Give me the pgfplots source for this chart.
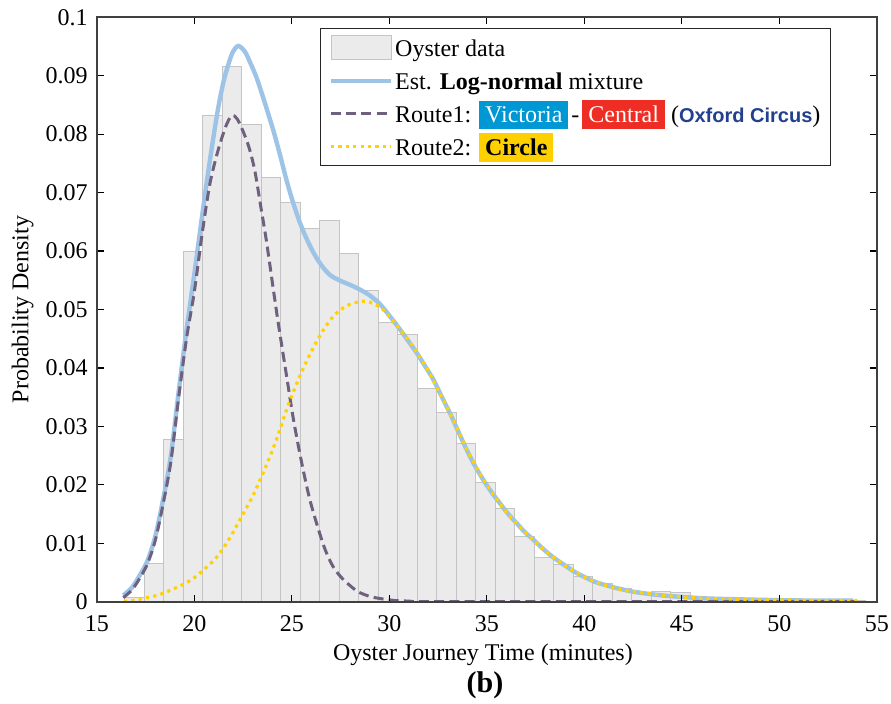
\documentclass[border=0pt]{standalone}
\usepackage{fontspec}
\setmainfont{Liberation Serif}
\newfontfamily\ocfont{Liberation Sans}
\usepackage{pgfplots}
\pgfplotsset{compat=1.18}
\definecolor{barfill}{HTML}{EBEBEB}
\definecolor{baredge}{HTML}{C4C4C4}
\definecolor{mixblue}{HTML}{9DC3E6}
\definecolor{rpurple}{HTML}{6E607E}
\definecolor{ryellow}{HTML}{FFD200}
\definecolor{vic}{HTML}{0098D4}
\definecolor{cen}{HTML}{EE2E24}
\definecolor{circ}{HTML}{FFD000}
\definecolor{oxc}{HTML}{23408E}
\pgfplotsset{
  linelegend/.style={legend image code/.code={\draw[##1] (0pt,0pt) -- (30pt,0pt);}},
  barlegend/.style={legend image code/.code={\draw[fill=barfill, draw=baredge, line width=0.5pt] (0pt,-6pt) rectangle (30pt,6pt);}},
}
\begin{document}
\begin{tikzpicture}
\path[use as bounding box] (-48.4pt,-51.15pt) rectangle (397.1pt,300.85pt);
\begin{axis}[
  at={(0pt,0pt)}, anchor=south west,
  scale only axis, width=390pt, height=292.2pt,
  clip mode=individual,
  xmin=15, xmax=55, ymin=0, ymax=0.1,
  xtick={15,20,25,30,35,40,45,50,55},
  ytick={0,0.01,0.02,0.03,0.04,0.05,0.06,0.07,0.08,0.09,0.1},
  scaled y ticks=false,
  yticklabel style={/pgf/number format/fixed, /pgf/number format/precision=2, xshift=-1pt},
  xticklabel style={yshift=-3.5pt},
  /pgf/number format/assume math mode=true,
  tick align=inside, major tick length=3.5pt,
  tick style={black, line width=0.6pt},
  axis line style={draw=black!75, line width=1pt},
  axis on top,
  font=\fontsize{12}{14}\selectfont,
  xlabel={Oyster Journey Time (minutes)},
  ylabel={Probability Density},
  xlabel style={at={(axis description cs:0.495,-0.09)}, anchor=center},
  ylabel style={at={(axis description cs:-0.095,0.5)}, anchor=center},
  legend cell align=left,
  legend style={at={(axis description cs:0.9413,0.9812)}, anchor=north east,
    draw=black!85, line width=0.6pt, fill=white,
    font=\fontsize{12}{14}\selectfont,
    inner xsep=4pt, inner ysep=2.5pt, row sep=2.5pt,
    nodes={inner sep=1pt, text height=10.5pt, text depth=1.5pt},
    /tikz/every even column/.append style={column sep=3pt}},
]
\addplot[ybar interval, fill=barfill, draw=baredge, line width=0.5pt, barlegend]
  coordinates {
  (16.44,0.0007) (17.44,0.0066) (18.44,0.0278) (19.44,0.0600) (20.44,0.0832)
  (21.44,0.0916) (22.44,0.0816) (23.44,0.0726) (24.44,0.0683) (25.44,0.0638)
  (26.44,0.0653) (27.44,0.0595) (28.44,0.0532) (29.44,0.0478) (30.44,0.0458)
  (31.44,0.0365) (32.44,0.0324) (33.44,0.0271) (34.44,0.0204) (35.44,0.0160)
  (36.44,0.0111) (37.44,0.0075) (38.44,0.0063) (39.44,0.0043) (40.44,0.0031)
  (41.44,0.0023) (42.44,0.0016) (43.44,0.0017) (44.44,0.0015) (45.44,0.0006)
  (46.44,0.0005) (47.44,0.0004) (48.44,0.0003) (49.44,0.0003) (50.44,0.0002)
  (51.44,0.0002) (52.44,0.0002) (53.44,0.0002) (54.44,0.0002)
  };
\addlegendentry{Oyster data}
\addplot[mixblue, line width=2.2pt, smooth, linelegend]
  coordinates {
  (16.36,0.0011) (16.8,0.0024) (17.2,0.0045) (17.6,0.0070) (18.0,0.0112)
  (18.4,0.0175) (18.8,0.0250) (19.2,0.0360) (19.6,0.0465) (20.0,0.0560)
  (20.4,0.0660) (20.8,0.0755) (21.2,0.0840) (21.5,0.0890) (21.8,0.0925)
  (22.0,0.0942) (22.26,0.0951) (22.6,0.0941) (22.9,0.0920) (23.2,0.0896)
  (23.5,0.0866) (23.8,0.0834) (24.1,0.0801) (24.4,0.0764) (24.7,0.0725)
  (25.0,0.0690) (25.4,0.0650) (25.8,0.0618) (26.2,0.0592) (26.6,0.0572)
  (27.0,0.0558) (27.5,0.0549) (28.0,0.0542) (28.5,0.0534) (29.0,0.0524)
  (29.5,0.0510) (30.04,0.0488) (30.5,0.0468) (30.89,0.0450) (31.4,0.0426)
  (31.8,0.0405) (32.26,0.0380) (32.7,0.0350) (33.12,0.0322) (33.5,0.0294)
  (33.97,0.0260) (34.4,0.0232) (34.83,0.0208) (35.25,0.0187) (35.68,0.0168)
  (36.1,0.0150) (36.54,0.0134) (36.95,0.0119) (37.39,0.0106) (37.8,0.0093)
  (38.25,0.0080) (38.7,0.0069) (39.1,0.0060) (39.5,0.0051) (39.96,0.0043)
  (40.4,0.0036) (40.81,0.0031) (41.25,0.0027) (41.67,0.0023) (42.1,0.0020)
  (42.52,0.0017) (43.38,0.0013) (44.23,0.0010) (45.08,0.0008) (46.0,0.0006)
  (46.79,0.0005) (48.0,0.0004) (49.35,0.0003) (51.5,0.0002) (53.8,0.0002)
  };
\addlegendentry{Est. \textbf{Log-normal} mixture}
\addplot[rpurple, line width=1.5pt, dash pattern=on 5pt off 2.6pt, smooth, linelegend]
  coordinates {
  (16.36,0.0007) (16.8,0.0020) (17.2,0.0040) (17.6,0.0065) (18.0,0.0105)
  (18.4,0.0167) (18.8,0.0240) (19.2,0.0350) (19.6,0.0450) (20.0,0.0530)
  (20.4,0.0629) (20.8,0.0715) (21.2,0.0770) (21.6,0.0812) (21.92,0.0832)
  (22.2,0.0826) (22.5,0.0805) (22.8,0.0778) (23.1,0.0738) (23.4,0.0678)
  (23.7,0.0617) (24.0,0.0547) (24.3,0.0478) (24.7,0.0393) (25.1,0.0309)
  (25.5,0.0239) (25.9,0.0178) (26.3,0.0131) (26.7,0.0090) (27.1,0.0061)
  (27.5,0.0043) (27.9,0.0030) (28.4,0.0017) (29.0,0.0009) (29.6,0.0005)
  (30.3,0.0002) (31.0,0.0001) (32.0,0.0000) (40.0,0.0000) (54.0,0.0000)
  };
\addlegendentry{Route1: \colorbox{vic}{\textcolor{white}{Victoria}}\kern1.5pt-\kern1.5pt\colorbox{cen}{\textcolor{white}{Central}} (\textcolor{oxc}{\ocfont\bfseries\fontsize{10}{12}\selectfont Oxford Circus})}
\addplot[ryellow, line width=1.6pt, dash pattern=on 1.6pt off 2.1pt, smooth, linelegend]
  coordinates {
  (16.4,0.0000) (17.0,0.0003) (17.6,0.0007) (18.2,0.0012) (18.8,0.0020)
  (19.4,0.0029) (20.0,0.0041) (20.6,0.0058) (21.2,0.0078) (21.8,0.0108)
  (22.4,0.0144) (23.0,0.0181) (23.6,0.0226) (24.2,0.0276) (24.8,0.0335)
  (25.4,0.0385) (26.0,0.0428) (26.6,0.0464) (27.2,0.0491) (27.8,0.0506)
  (28.4,0.0513) (28.8,0.0514) (29.2,0.0510) (29.6,0.0502) (30.0,0.0488)
  (30.5,0.0468) (31.0,0.0447) (31.5,0.0422) (32.0,0.0395) (32.5,0.0362)
  (33.0,0.0330) (33.5,0.0295) (34.0,0.0259) (34.5,0.0228) (35.0,0.0200)
  (35.5,0.0176) (36.0,0.0153) (36.5,0.0135) (37.0,0.0118) (37.5,0.0102)
  (38.0,0.0087) (38.5,0.0074) (39.0,0.0062) (39.5,0.0052) (40.0,0.0042)
  (40.5,0.0035) (41.0,0.0029) (41.5,0.0024) (42.0,0.0020) (42.5,0.0017)
  (43.0,0.0015) (43.5,0.0013) (44.0,0.0011) (45.0,0.0008) (46.0,0.0006)
  (47.0,0.0005) (48.0,0.0004) (49.0,0.0003) (50.0,0.0003) (52.0,0.0002)
  (54.0,0.0002)
  };
\addlegendentry{Route2: \colorbox{circ}{\textbf{Circle}}}
\node[font=\bfseries\fontsize{15}{17}\selectfont] at (axis description cs:0.4977,-0.1427) {(b)};
\end{axis}
\end{tikzpicture}
\end{document}
